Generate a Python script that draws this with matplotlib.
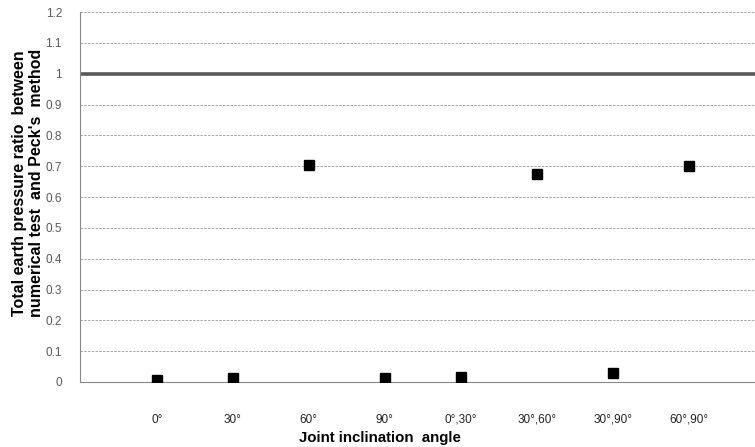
import matplotlib
matplotlib.use("Agg")
import matplotlib.pyplot as plt

plt.rcParams['font.family'] = ['Liberation Sans', 'DejaVu Sans']

categories = ["0°", "30°", "60°", "90°", "0°,30°", "30°,60°", "30°,90°", "60°,90°"]
ratios = [0.008, 0.013, 0.705, 0.013, 0.016, 0.675, 0.029, 0.701]
reference_value = 1.0
yticks = [0, 0.1, 0.2, 0.3, 0.4, 0.5, 0.6, 0.7, 0.8, 0.9, 1, 1.1, 1.2]
ytick_labels = ["0", "0.1", "0.2", "0.3", "0.4", "0.5", "0.6", "0.7", "0.8", "0.9", "1", "1.1", "1.2"]
marked_idx = [2, 5, 7]

W, H = 755, 447
fig = plt.figure(figsize=(W/100, H/100), dpi=100)
ax = fig.add_axes([80/W, 1-382/H, 1-80/W, (382-12)/H])

x = list(range(len(categories)))
ax.set_xlim(-1.01, 7.87)
ax.set_ylim(0, 1.2)

ax.set_yticks(yticks)
ax.set_yticklabels(ytick_labels, color="#595959", fontsize=8.5)
ax.yaxis.grid(True, linestyle=(0, (3, 1.5)), color="#9a9a9a", linewidth=0.6)
ax.set_axisbelow(True)

ax.axhline(reference_value, color="#595959", linewidth=2.6, zorder=2)
ax.plot(x, ratios, linestyle="none", marker="s", markersize=7.8, color="black", zorder=3)

ax.set_xticks(x)
ax.set_xticklabels(categories, fontsize=8.5, color="#222222")
ax.tick_params(axis="x", length=0, pad=23)
ax.set_xticks([x[i] for i in marked_idx], minor=True)
ax.tick_params(axis="x", which="minor", direction="in", length=5, color="#888888", width=0.8)
ax.tick_params(axis="y", length=0, pad=13)

for s in ["top", "right"]:
    ax.spines[s].set_visible(False)
for s in ["left", "bottom"]:
    ax.spines[s].set_color("#888888")
    ax.spines[s].set_linewidth(0.8)

fig.text(380/W, 1-438/H, "Joint inclination  angle", fontsize=10.8, fontweight="bold",
         ha="center", va="center")
fig.text(28/W, 1-183/H, "Total earth pressure ratio  between\nnumerical test  and Peck's  method",
         fontsize=11.5, fontweight="bold", rotation=90, ha="center", va="center",
         linespacing=1.1, multialignment="center")

fig.savefig("out.png", dpi=100)
